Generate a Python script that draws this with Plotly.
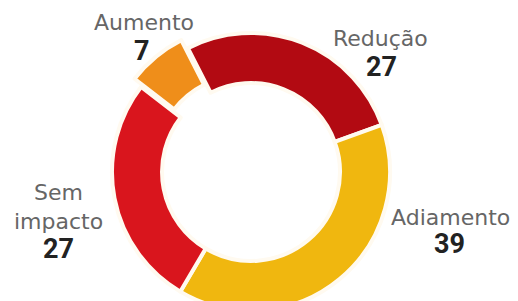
import plotly.graph_objects as go

# ---- data ----
categories = ["Redução", "Adiamento", "Sem impacto", "Aumento"]
values = [27, 39, 27, 7]
label_text = ["Redução", "Adiamento", "Sem<br>impacto", "Aumento"]

# ---- styles ----
colors = ["#b20a12", "#f0b70f", "#d9151d", "#ef8e1a"]
pulls = [0, 0, 0, 0.075]
W, H = 518, 330          # page body adds an 8px offset; bottom of ring runs off the view
OFF = 8
# label / number centres in screen pixels
label_pos = [(380, 38), (450, 217), (58, 207), (144, 23)]
number_pos = [(381, 67), (449, 244), (58, 249), (142, 51)]

CX, CY, R, PULL = 251, 172, 139, max(pulls)
RD = R * (1 + PULL)
cx, cy = CX - OFF, CY - OFF

fig = go.Figure()
fig.add_trace(go.Pie(
    labels=categories,
    values=values,
    sort=False,
    direction="clockwise",
    rotation=-27,
    hole=0.64,
    pull=pulls,
    marker=dict(colors=colors, line=dict(color="#fffaf0", width=4)),
    textinfo="none",
    hoverinfo="label+value",
    showlegend=False,
    domain=dict(x=[(cx - RD) / W, (cx + RD) / W],
                y=[(H - (cy + RD)) / H, (H - (cy - RD)) / H]),
))

def px(x, y):
    return (x - OFF) / W, 1 - (y - OFF) / H

annotations = []
for t, v, (lx, ly), (nx, ny) in zip(label_text, values, label_pos, number_pos):
    ax, ay = px(lx, ly)
    annotations.append(dict(
        x=ax, y=ay, xref="paper", yref="paper",
        text=t, showarrow=False, xanchor="center", yanchor="middle",
        font=dict(family="DejaVu Sans", size=22, color="#666666"),
    ))
    ax, ay = px(nx, ny)
    annotations.append(dict(
        x=ax, y=ay, xref="paper", yref="paper",
        text="<b>%d</b>" % v, showarrow=False, xanchor="center", yanchor="middle",
        font=dict(family="Roboto", size=27, color="#222222"),
    ))

fig.update_layout(
    width=W, height=H,
    margin=dict(l=0, r=0, t=0, b=0),
    paper_bgcolor="white",
    plot_bgcolor="white",
    annotations=annotations,
)

fig.write_html("out.html")
